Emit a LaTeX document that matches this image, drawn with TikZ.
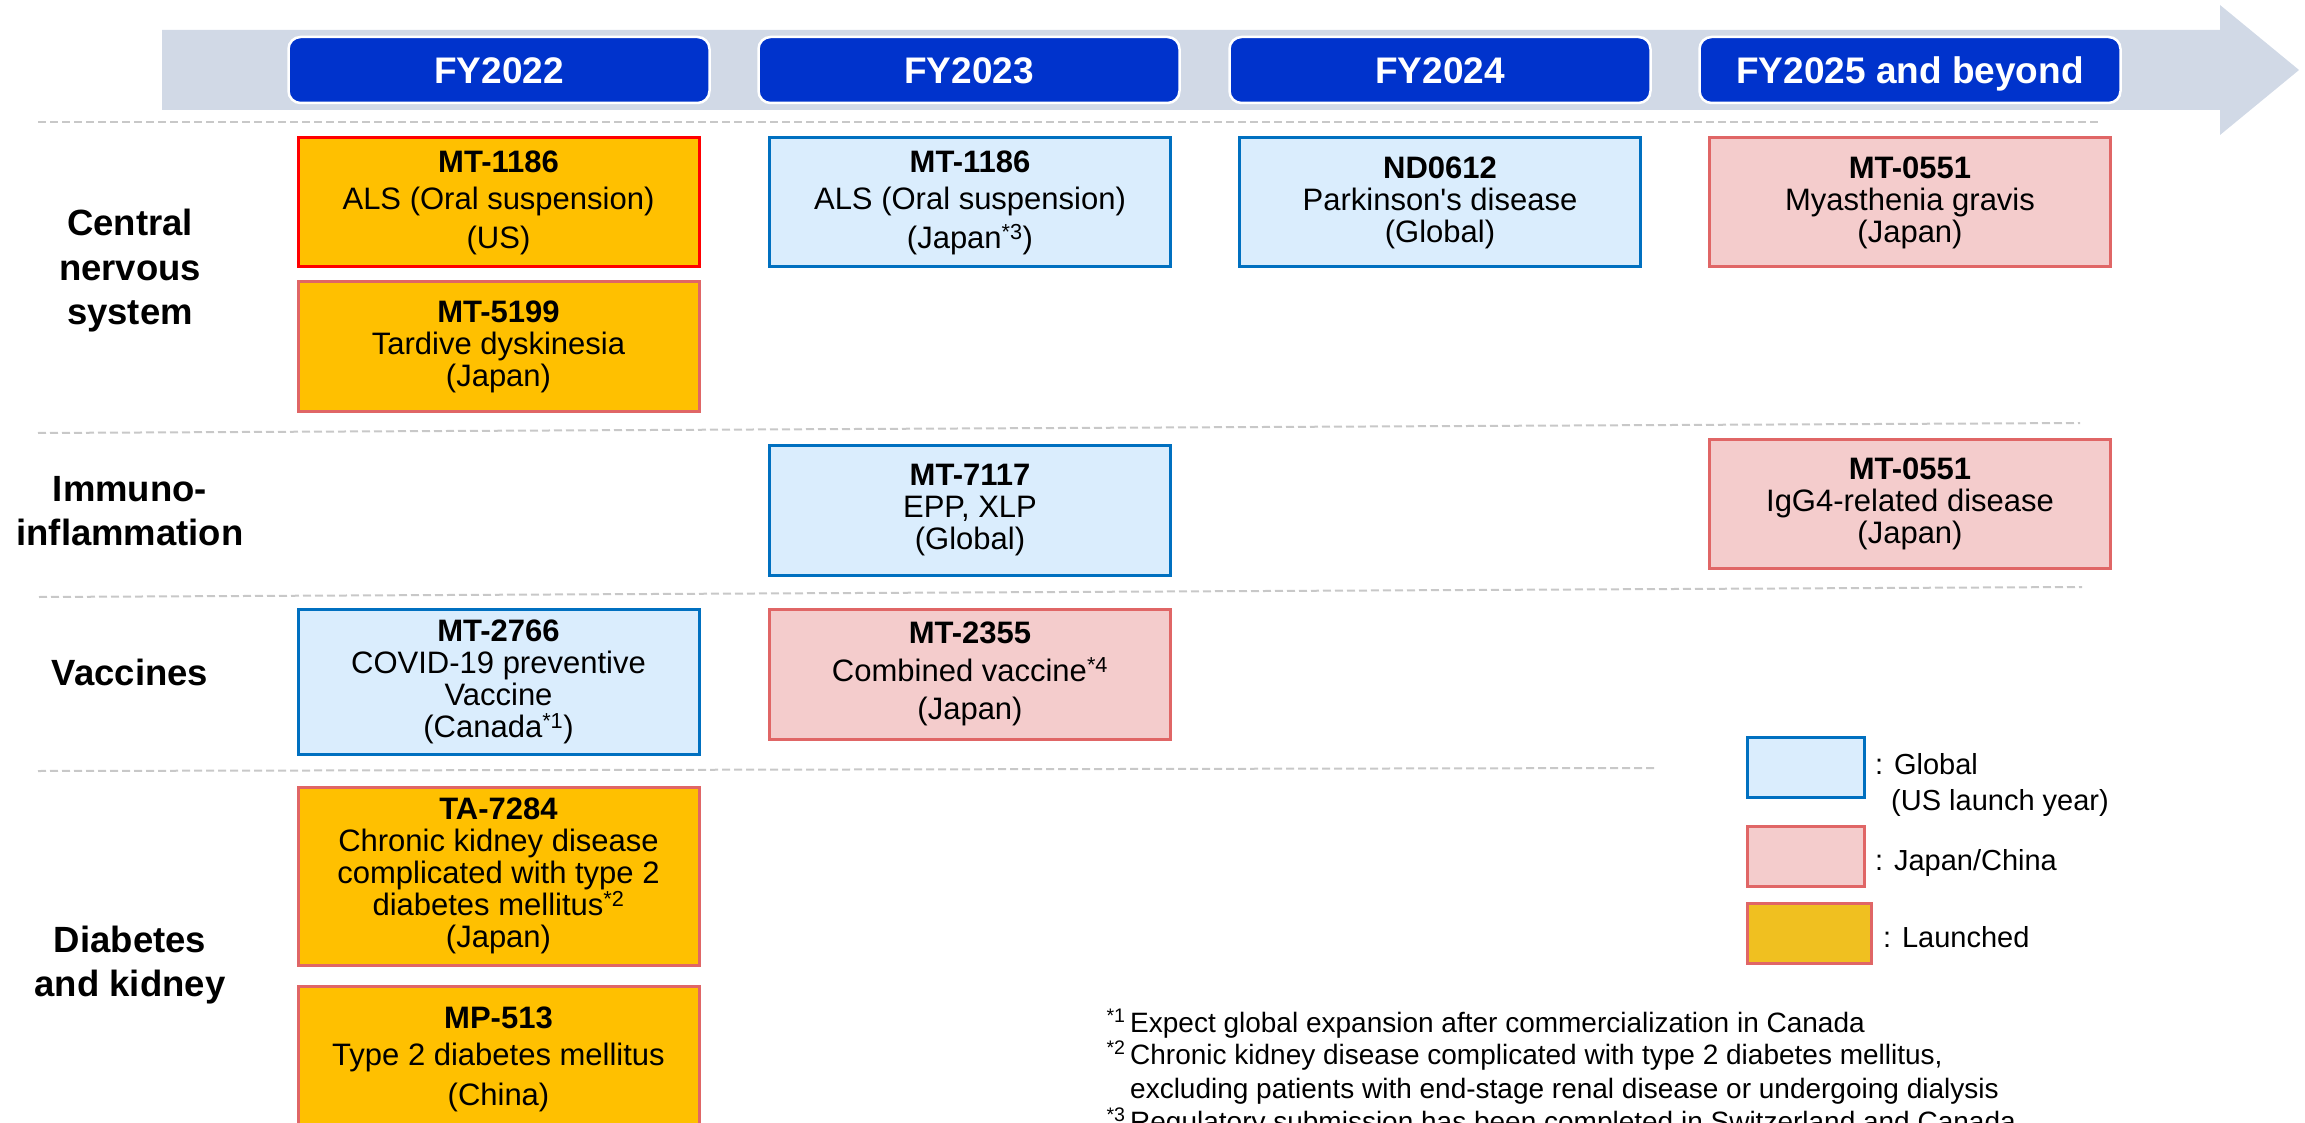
\documentclass[tikz,border=0pt]{standalone}
\usepackage{fontspec}
\setmainfont{Liberation Sans}

\definecolor{yearblue}{HTML}{0033CC}
\definecolor{bandgray}{HTML}{D1D9E6}
\definecolor{globalfill}{HTML}{DAEDFD}
\definecolor{globalline}{HTML}{0070C0}
\definecolor{japanfill}{HTML}{F4CCCC}
\definecolor{japanline}{HTML}{E06666}
\definecolor{launchfill}{HTML}{FFC000}
\definecolor{keyyellow}{HTML}{F0C020}
\definecolor{dashgray}{HTML}{C8C8C8}

\begin{document}
\begin{tikzpicture}[x=1pt,y=-1pt,
    yearbox/.style={draw=white,line width=2.5pt,fill=yearblue,rounded corners=12pt,
        minimum width=421pt,minimum height=66pt,text height=27pt,text depth=0pt,
        text=white,font=\fontsize{37}{44}\selectfont\bfseries},
    card/.style={line width=3pt,minimum width=401pt,minimum height=129pt,
        align=center,inner sep=0pt,font=\fontsize{31}{32}\selectfont},
    globalcard/.style={card,draw=globalline,fill=globalfill},
    japancard/.style={card,draw=japanline,fill=japanfill},
    launchcard/.style={card,draw=japanline,fill=launchfill},
    areatext/.style={align=center,font=\fontsize{36.5}{44.5}\selectfont\bfseries},
    divider/.style={draw=dashgray,line width=2pt,dash pattern=on 8pt off 4pt},
    keybox/.style={line width=3pt,minimum width=117pt,minimum height=60pt,inner sep=0pt},
    keytext/.style={anchor=base west,inner sep=0pt,font=\fontsize{29}{36}\selectfont},
    notetext/.style={anchor=base west,inner sep=0pt,font=\fontsize{28}{33}\selectfont}]
        \useasboundingbox (0,0) rectangle (2305,1123);
        \clip (0,0) rectangle (2305,1123);

        % time arrow and years
        \fill[bandgray] (162,30) -- (2220,30) -- (2220,5) -- (2299,70) -- (2220,135) -- (2220,110) -- (162,110) -- cycle;
        \node[yearbox] (fy22) at (499,70) {FY2022};
        \node[yearbox] (fy23) at (969,70) {FY2023};
        \node[yearbox] (fy24) at (1440,70) {FY2024};
        \node[yearbox] (fy25) at (1910,70) {FY2025 and beyond};

        % row separators
        \draw[divider] (38,122) -- (2099,122);
        \draw[divider] (38,433) -- (2080,423);
        \draw[divider] (39,597) -- (2082,587);
        \draw[divider] (38,771) -- (1656,768);

        % areas
        \node[areatext] (cns) at (130,271) {Central\\nervous\\system};
        \node[areatext] (immuno) at (130,511) {Immuno-\\inflammation};
        \node[areatext] (vacc) at (130,672) {Vaccines};
        \node[areatext] (diab) at (130,965) {Diabetes\\and kidney};

        % central nervous system
        \node[launchcard,draw=red] (mt1186us) at (498.5,202.5) {\textbf{MT-1186}\\[5pt]ALS (Oral suspension)\\[7pt](US)};
        \node[globalcard] (mt1186jp) at (970,202.5) {\textbf{MT-1186}\\[5pt]ALS (Oral suspension)\\[7pt](Japan\textsuperscript{*3})};
        \node[globalcard] (nd0612) at (1440,202.5) {\textbf{ND0612}\\Parkinson\textquotesingle s disease\\(Global)};
        \node[japancard] (mt0551mg) at (1910,202.5) {\textbf{MT-0551}\\Myasthenia gravis\\(Japan)};
        \node[launchcard] (mt5199) at (498.5,346.5) {\textbf{MT-5199}\\Tardive dyskinesia\\(Japan)};

        % immuno-inflammation
        \node[globalcard,minimum height=130pt] (mt7117) at (970,510) {\textbf{MT-7117}\\EPP, XLP\\(Global)};
        \node[japancard] (mt0551ig) at (1910,503.5) {\textbf{MT-0551}\\IgG4-related disease\\(Japan)};

        % vaccines
        \node[globalcard,minimum height=145pt] (mt2766) at (498.5,681.5) {\textbf{MT-2766}\\COVID-19 preventive\\Vaccine\\(Canada\textsuperscript{*1})};
        \node[japancard,minimum height=130pt] (mt2355) at (970,674) {\textbf{MT-2355}\\[6pt]Combined vaccine\textsuperscript{*4}\\[6pt](Japan)};

        % diabetes and kidney
        \node[launchcard,minimum height=178pt] (ta7284) at (498.5,876) {\textbf{TA-7284}\\Chronic kidney disease\\complicated with type 2\\diabetes mellitus\textsuperscript{*2}\\(Japan)};
        \node[launchcard,minimum height=146pt] (mp513) at (498.5,1059) {\textbf{MP-513}\\[5pt]Type 2 diabetes mellitus\\[8pt](China)};

        % legend
        \node[keybox,draw=globalline,fill=globalfill] (kglobal) at (1805.5,767) {};
        \node[keybox,draw=japanline,fill=japanfill] (kjapan) at (1805.5,856) {};
        \node[keybox,draw=japanline,fill=keyyellow,minimum width=124pt] (klaunch) at (1809,933.5) {};
        \node[keytext] (tglobal) at (1875,774) {: Global};
        \node[keytext] (tusyear) at (1891,810) {(US launch year)};
        \node[keytext] (tjapan) at (1875,870) {: Japan/China};
        \node[keytext] (tlaunch) at (1883,947) {: Launched};

        % notes
        \node[notetext] (fn1) at (1130,1032) {\llap{\textsuperscript{*1}\,}Expect global expansion after commercialization in Canada};
        \node[notetext] (fn2) at (1130,1064) {\llap{\textsuperscript{*2}\,}Chronic kidney disease complicated with type 2 diabetes mellitus,};
        \node[notetext] (fn2b) at (1130,1098) {excluding patients with end-stage renal disease or undergoing dialysis};
        \node[notetext] (fn3) at (1130,1131) {\llap{\textsuperscript{*3}\,}Regulatory submission has been completed in Switzerland and Canada};
    \end{tikzpicture}
\end{document}
